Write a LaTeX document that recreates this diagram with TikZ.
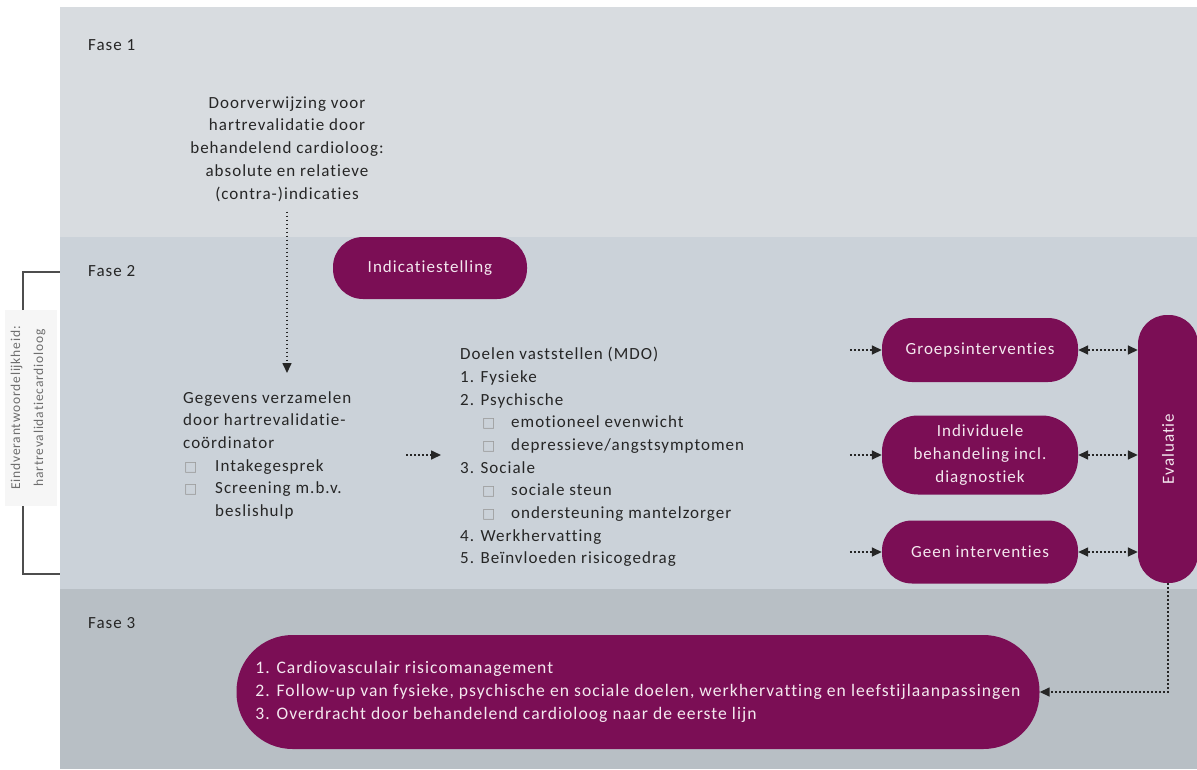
\documentclass[tikz,border=0pt]{standalone}
\usepackage{fontspec}
\setmainfont{Carlito}[Ligatures=NoCommon, LetterSpace=6]
\newfontfamily\symfont{DejaVu Sans}
\usetikzlibrary{arrows.meta}

\definecolor{faseone}{HTML}{D8DCE0}
\definecolor{fasetwo}{HTML}{CBD2D9}
\definecolor{fasethree}{HTML}{B8BFC5}
\definecolor{plum}{HTML}{7B0E55}
\definecolor{ink}{HTML}{262626}
\definecolor{pilltext}{HTML}{F4E8EF}
\definecolor{labelbg}{HTML}{F6F6F6}
\definecolor{labelgrey}{HTML}{6E6E6E}
\definecolor{boxgrey}{HTML}{9A9A9A}
\definecolor{bracketgrey}{HTML}{4D4D4D}

% small empty check box used in the bullet lists
\newcommand\chk{{\color{boxgrey}\symfont\fontsize{14}{14}\selectfont □}}
\newcommand\bodyfont{\fontsize{17}{22.7}\selectfont}

\tikzset{
  phase/.style={anchor=west, inner sep=0pt, text=ink, font=\bodyfont},
  block/.style={align=left, inner sep=0pt, text=ink, font=\bodyfont},
  pill/.style={fill=plum, text=pilltext, align=center, inner sep=0pt, font=\bodyfont},
  dotarrow/.style={draw=ink, line width=1.6pt, dash pattern=on 1.8pt off 2.2pt,
    -{Triangle[length=10pt,width=9pt]}},
  dualarrow/.style={draw=ink, line width=1.6pt, dash pattern=on 1.8pt off 2.2pt,
    {Triangle[length=10pt,width=9pt]}-{Triangle[length=10pt,width=9pt]}},
  bracket/.style={draw=bracketgrey, line width=1.3pt},
}

\begin{document}
\begin{tikzpicture}[x=1pt,y=-1pt]
\useasboundingbox (0,0) rectangle (1197,769);
\fill[white] (0,0) rectangle (1197,769);

% phase bands
\fill[faseone]   (60,7)   rectangle (1197,237);
\fill[fasetwo]   (60,237) rectangle (1197,589);
\fill[fasethree] (60,589) rectangle (1197,769);

\node[phase] (f1) at (88,45)  {Fase 1};
\node[phase] (f2) at (88,271) {Fase 2};
\node[phase] (f3l) at (88,623) {Fase 3};

% responsibility bracket on the left
\fill[labelbg] (5,310) rectangle (57,506);
\draw[bracket] (23,310) -- (23,272) -- (60,272);
\draw[bracket] (23,506) -- (23,574) -- (60,574);
\node[rotate=90, align=center, inner sep=0pt, text=labelgrey,
      font=\fontsize{13.5}{23}\selectfont] (resp) at (28,408)
  {Eindverantwoordelijkheid:\\hartrevalidatiecardioloog};

% phase 1
\node[block, align=center] (ref) at (287,149)
  {Doorverwijzing voor\\hartrevalidatie door\\behandelend cardioloog:\\absolute en relatieve\\(contra-)indicaties};

% phase 2
\node[pill, minimum width=194pt, minimum height=62pt, rounded corners=30pt]
  (ind) at (430,268) {Indicatiestelling};

\node[block, anchor=north west] (geg) at (183,391)
  {Gegevens verzamelen\\
   door hartrevalidatie-\\
   coördinator\\
   \makebox[32pt][l]{\hspace{1pt}\chk}Intakegesprek\\
   \makebox[32pt][l]{\hspace{1pt}\chk}Screening m.b.v.\\
   \hspace*{32pt}beslishulp};

\node[block, anchor=north west] (doel) at (460,347)
  {Doelen vaststellen (MDO)\\
   1. Fysieke\\
   2. Psychische\\
   \hspace*{22pt}\makebox[29pt][l]{\chk}emotioneel evenwicht\\
   \hspace*{22pt}\makebox[29pt][l]{\chk}depressieve/angstsymptomen\\
   3. Sociale\\
   \hspace*{22pt}\makebox[29pt][l]{\chk}sociale steun\\
   \hspace*{22pt}\makebox[29pt][l]{\chk}ondersteuning mantelzorger\\
   4. Werkhervatting\\
   5. Beïnvloeden risicogedrag};

\node[pill, minimum width=196pt, minimum height=64pt, rounded corners=30pt]
  (grp) at (980,350) {Groepsinterventies};
\node[pill, minimum width=196pt, minimum height=79pt, rounded corners=36pt]
  (indiv) at (980,455) {Individuele\\behandeling incl.\\diagnostiek};
\node[pill, minimum width=196pt, minimum height=63pt, rounded corners=30pt]
  (geen) at (980,552) {Geen interventies};
\node[pill, minimum width=60pt, minimum height=268pt, rounded corners=29pt]
  (eva) at (1168,449) {\rotatebox{90}{Evaluatie}};

% phase 3
\node[pill, minimum width=803pt, minimum height=114pt, rounded corners=56pt, align=left,
      font=\fontsize{17.6}{23}\selectfont]
  (fu) at (638,692)
  {1. Cardiovasculair risicomanagement\\
   2. Follow-up van fysieke, psychische en sociale doelen, werkhervatting en leefstijlaanpassingen\\
   3. Overdracht door behandelend cardioloog naar de eerste lijn};

% connectors
\draw[dotarrow, shorten >=18pt] ([yshift=-10pt]ref.south) -- (ref.south |- geg.north);
\coordinate (gd) at (406,455);
\draw[dotarrow, shorten >=19pt] (gd) -- (gd -| doel.west);
\foreach \n in {grp,indiv,geen}{
  \draw[dotarrow] ([xshift=-32pt]\n.west) -- (\n.west);
  \draw[dualarrow] (\n.east) -- (\n.east -| eva.west);
}
\draw[dotarrow] (eva.south) |- (fu.east);
\end{tikzpicture}
\end{document}
